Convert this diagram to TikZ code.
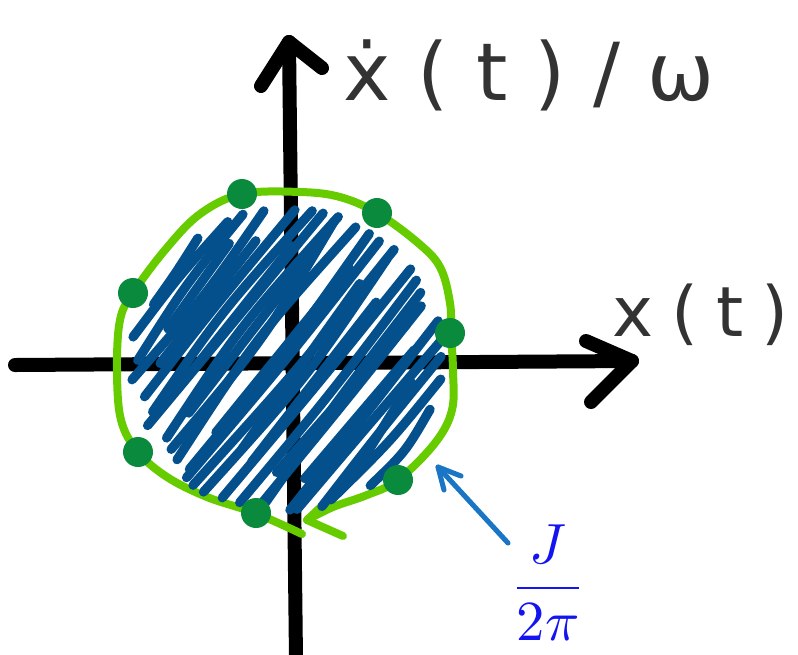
\documentclass[tikz,border=0pt]{standalone}
\usepackage{fontspec}
\newfontfamily\handA[LetterSpace=34]{DejaVu Sans}
\newfontfamily\handB[LetterSpace=26]{DejaVu Sans}
\definecolor{axisblack}{HTML}{000000}
\definecolor{loopgreen}{HTML}{66CC00}
\definecolor{dotgreen}{HTML}{0A8A3C}
\definecolor{hatchblue}{HTML}{03508C}
\definecolor{arrowblue}{HTML}{1A75C4}
\definecolor{fracblue}{HTML}{1414F0}
\definecolor{ink}{HTML}{333333}
\begin{document}
\begin{tikzpicture}[x=0.75pt,y=-0.75pt,
  axisline/.style={draw=axisblack,line width=10.5pt,line cap=round,line join=round},
  loopline/.style={draw=loopgreen,line width=6pt,line cap=round,line join=round},
  hatchline/.style={draw=hatchblue,line width=7pt,line cap=round},
  ptdot/.style={fill=dotgreen},
  pointer/.style={draw=arrowblue,line width=3.8pt,line cap=round,line join=round},
  handlabel/.style={text=ink,inner sep=0pt}]
\useasboundingbox (0,0) rectangle (798,654);
% axes
\coordinate (xstart) at (15,365);
\coordinate (xtip) at (632,361);
\coordinate (ystart) at (296,660);
\coordinate (ytip) at (289,42);
\draw[axisline] (xstart) -- (xtip);
\draw[axisline] (586,341) -- (xtip) -- (591,402);
\draw[axisline] (ystart) -- (ytip);
\draw[axisline] (261,86) -- (ytip) -- (322,68);
% green orbit
\draw[loopline] plot[smooth,tension=0.6] coordinates {(302,534) (255,513) (207,497) (167,477) (138,452) (121,420) (117,370) (120,320) (133,293) (165,250) (200,214) (242,194) (300,192) (340,197) (377,213) (417,242) (440,267) (450,303) (451,333) (453,370) (452,410) (435,443) (398,480) (367,495) (333,507) (307,520)} coordinate (looptip);
\draw[loopline] (325,503) -- (looptip) -- (343,536);
% hatching
\pgfmathsetseed{11}
\foreach \d in {-144,-131,...,144}{
  \pgfmathsetmacro\t{100*sqrt(1.5*1.5-(\d/100)^2)}
  \pgfmathsetmacro\ja{rand*12}
  \pgfmathsetmacro\jb{rand*12}
  \pgfmathsetmacro\jm{rand*10}
  \draw[hatchline] ({285+\d*0.788-\t*0.616+\ja},{360+\d*0.616+\t*0.788})
     .. controls ({285+\d*0.788+\jm},{360+\d*0.616+\jm*0.5}) ..
     ({285+\d*0.788+\t*0.616+\jb},{360+\d*0.616-\t*0.788});
}
\pgfmathsetseed{5}
\foreach \d in {-120,-94,...,130}{
  \pgfmathsetmacro\t{75*sqrt(1.4*1.4-(\d/100)^2)}
  \pgfmathsetmacro\ja{rand*10}
  \pgfmathsetmacro\jb{rand*10}
  \draw[hatchline] ({285+\d*0.788+6-\t*0.616+\ja},{360+\d*0.616+\t*0.788})
     -- ({285+\d*0.788+6+\t*0.616+\jb},{360+\d*0.616-\t*0.788});
}
% points on orbit
\foreach \p in {(242,194),(377,213),(133,293),(450,333),(138,452),(398,480),(256,513)}{
  \fill[ptdot] \p circle[radius=11.25pt];
}
% labels
\node[handlabel,anchor=base west,font=\handA\fontsize{60}{66}\selectfont] (ylabel) at (343,100) {ẋ(t)/ω};
\node[handlabel,anchor=base west,font=\handB\fontsize{52}{58}\selectfont] (xlabel) at (612,336) {x(t)};
\node[text=fracblue,inner sep=0pt,scale=4.25] (frac) at (548,583) {$\displaystyle\frac{J}{2\pi}$};
% pointer
\coordinate (ptail) at (508,543);
\coordinate (phead) at (438,467);
\draw[pointer] (ptail) -- (phead);
\draw[pointer] (461,476) -- (phead) -- (444,490);
\end{tikzpicture}
\end{document}
